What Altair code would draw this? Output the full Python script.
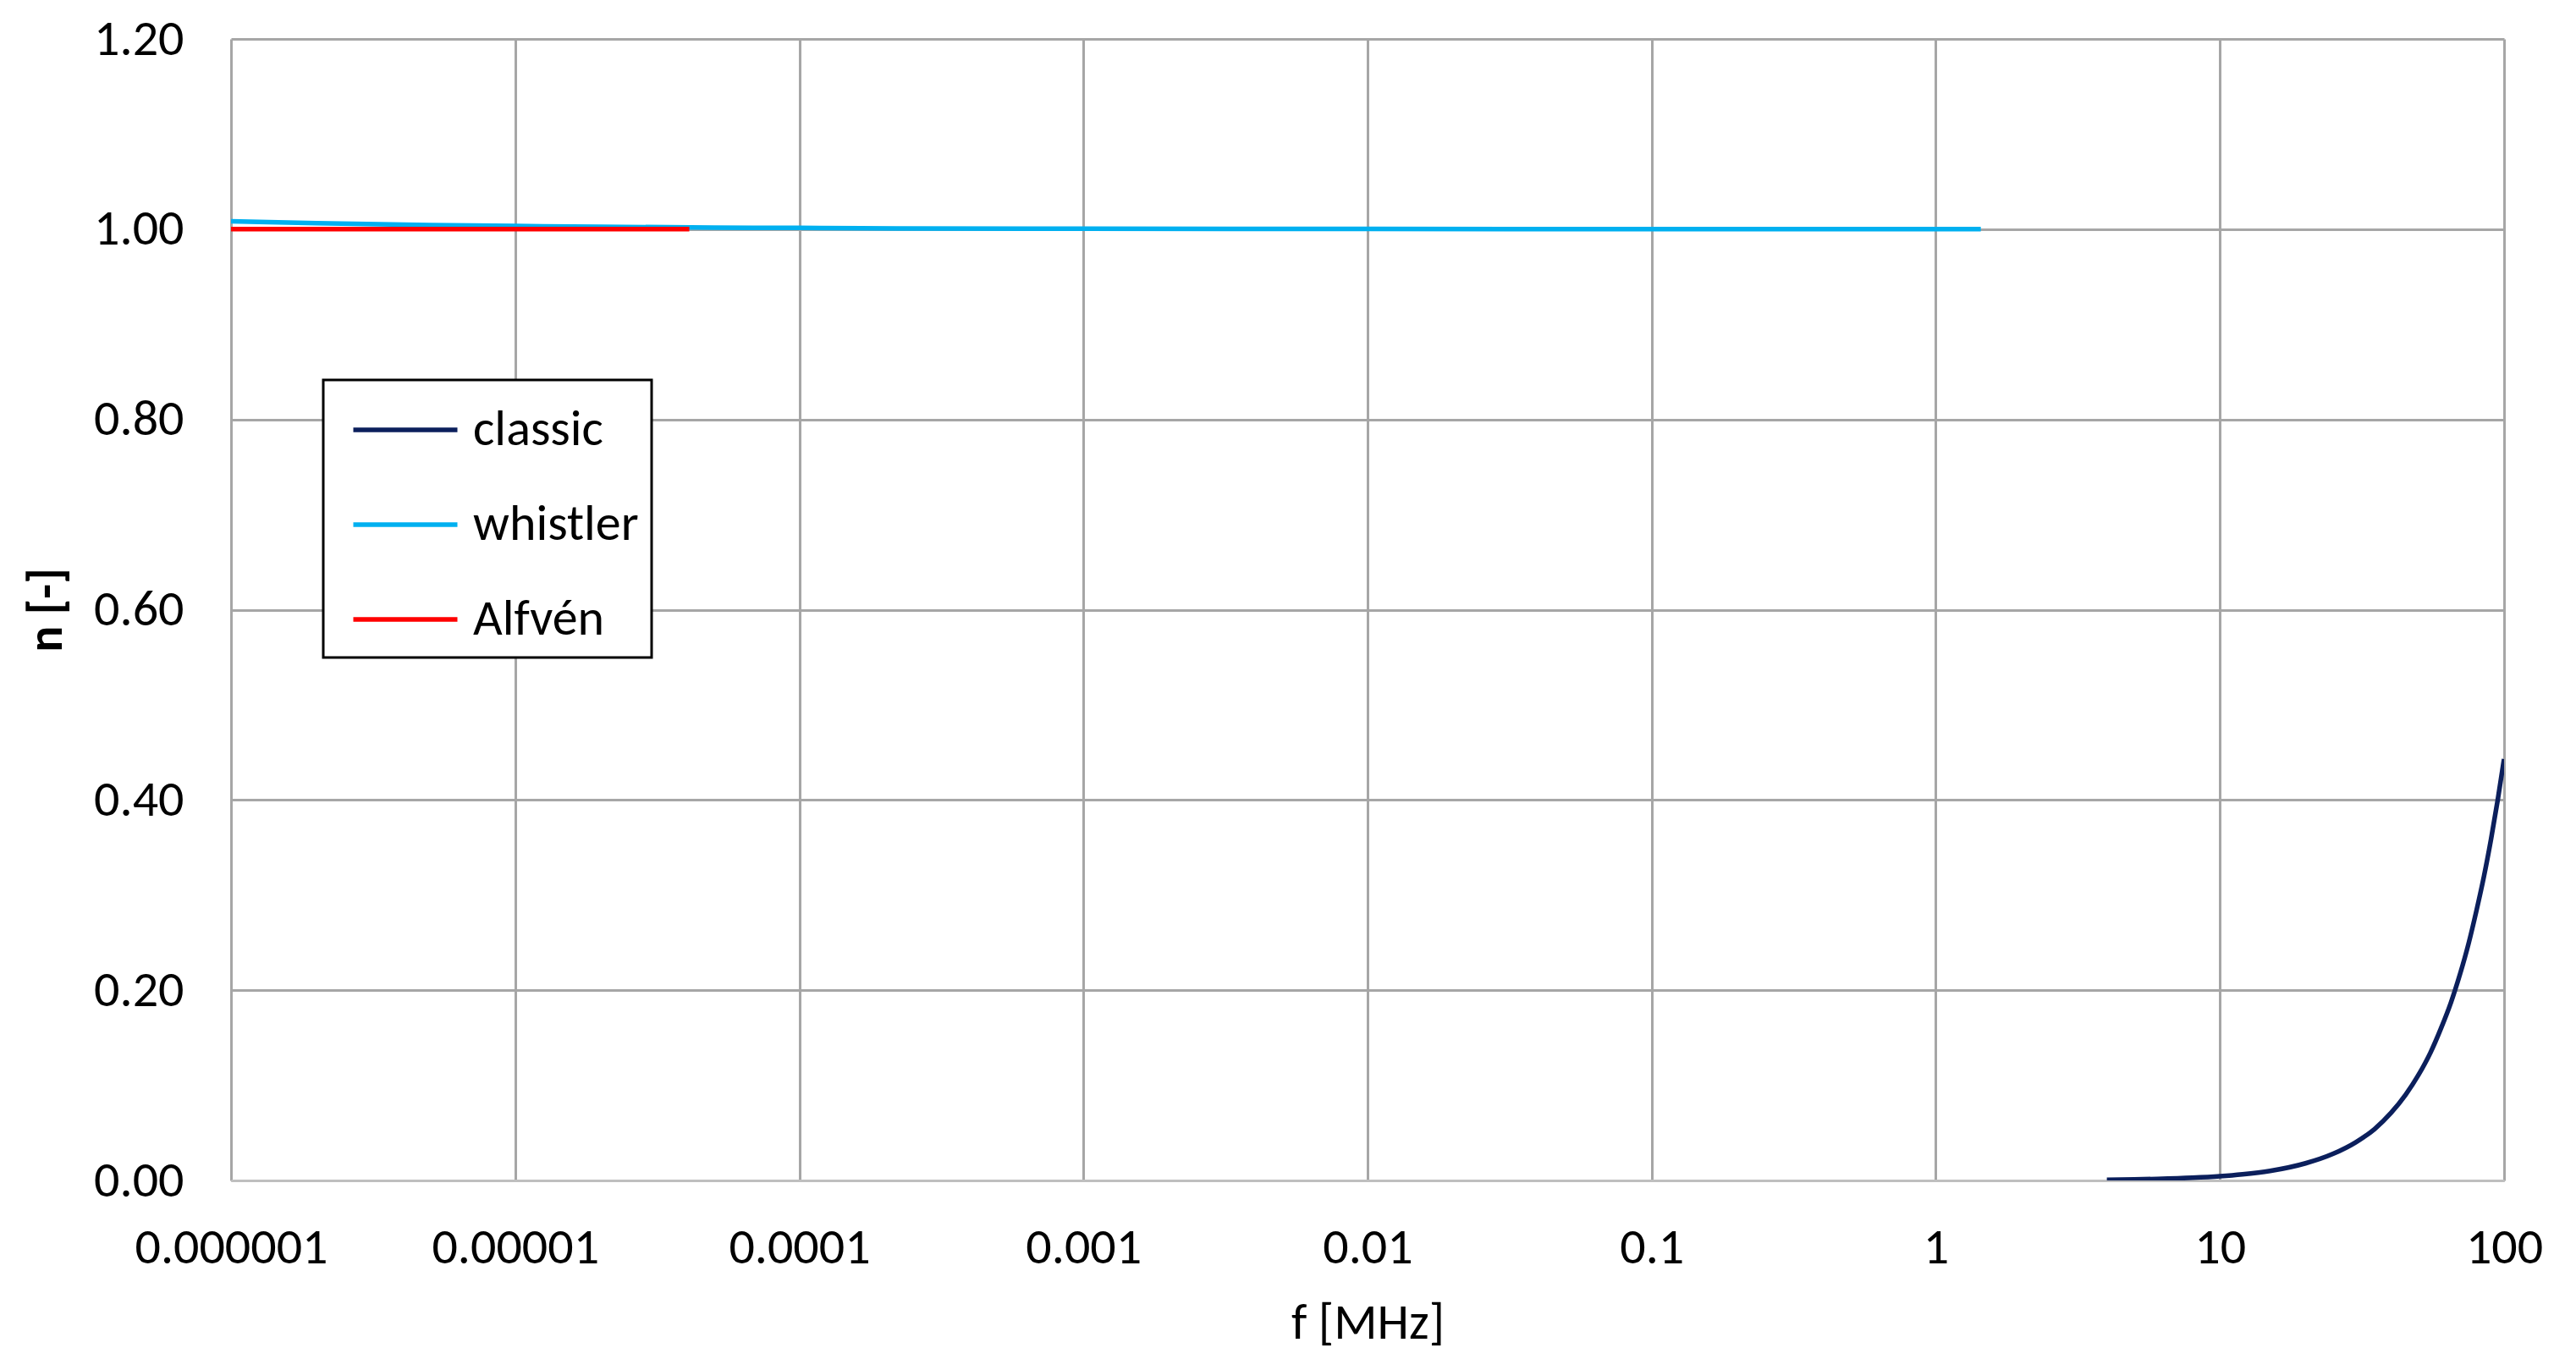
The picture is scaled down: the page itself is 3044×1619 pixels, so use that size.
import altair as alt
import pandas as pd

# ---- data ----
series_names = ["classic", "whistler", "Alfvén"]
series_colors = ["#0B1F5C", "#00B0F0", "#FF0000"]

classic_f = [4, 5, 6, 8, 10, 12, 15, 20, 25, 30, 35, 40, 45, 50, 55, 60, 65, 70, 75, 80, 85, 90, 95, 100]
classic_n = [0.0007, 0.0011, 0.0016, 0.0028, 0.0044, 0.0064, 0.010, 0.018, 0.028, 0.040, 0.054, 0.071,
             0.090, 0.111, 0.134, 0.160, 0.187, 0.217, 0.249, 0.284, 0.320, 0.359, 0.400, 0.443]

whistler_f = [1e-6, 2e-6, 5e-6, 1e-5, 2e-5, 5e-5, 1e-4, 2.2e-4, 1e-3, 1e-2, 0.1, 1, 1.44]
whistler_n = [1.0083, 1.0063, 1.0043, 1.0033, 1.0025, 1.0017, 1.0013, 1.0008, 1.0005, 1.0002, 1.0001, 1.0, 1.0]

alfven_f = [1e-6, 1e-5, 4.1e-5]
alfven_n = [1.0, 1.0, 1.0]

x_ticks = [1e-6, 1e-5, 1e-4, 1e-3, 1e-2, 1e-1, 1, 10, 100]
y_ticks = [0, 0.2, 0.4, 0.6, 0.8, 1.0, 1.2]

rows = []
for f, n in zip(classic_f, classic_n):
    rows.append({"series": "classic", "f": f, "n": n})
for f, n in zip(whistler_f, whistler_n):
    rows.append({"series": "whistler", "f": f, "n": n})
for f, n in zip(alfven_f, alfven_n):
    rows.append({"series": "Alfvén", "f": f, "n": n})
df = pd.DataFrame(rows)

FONT = "Carlito, Lato, sans-serif"

chart = alt.Chart(df).mark_line(strokeWidth=5.5, interpolate="monotone", clip=True).encode(
    x=alt.X("f:Q",
            scale=alt.Scale(type="log", domain=[1e-6, 100], nice=False),
            axis=alt.Axis(values=x_ticks, format=".6~f", title="f [MHz]",
                          labelPadding=50, titlePadding=30, tickSize=0,
                          labelFontSize=60, titleFontSize=60, titleFontWeight="normal",
                          labelLimit=0, labelFlush=False, labelOverlap=False,
                          domain=True, domainColor="#BFBFBF", domainWidth=3,
                          grid=True, gridColor="#A6A6A6", gridWidth=3)),
    y=alt.Y("n:Q",
            scale=alt.Scale(domain=[0, 1.2], nice=False),
            axis=alt.Axis(values=y_ticks, format=".2f", title="n [-]",
                          labelPadding=56, titlePadding=26, tickSize=0,
                          labelFontSize=60, titleFontSize=58, titleFontWeight="bold",
                          labelLimit=0, labelFlush=False, labelOverlap=False,
                          domain=False,
                          grid=True, gridColor="#A6A6A6", gridWidth=3)),
    color=alt.Color("series:N",
                    scale=alt.Scale(domain=series_names, range=series_colors),
                    legend=alt.Legend(orient="none", legendX=109, legendY=403, title=None,
                                      symbolType="M-1.5,0L1.5,0", symbolSize=6724,
                                      symbolStrokeWidth=5.5, symbolOffset=38,
                                      labelFontSize=60, labelOffset=36, padding=15,
                                      labelLimit=1000,
                                      fillColor="white", strokeColor="#000000")),
    order=alt.Order("f:Q"),
).properties(
    width=2686, height=1349,
    padding={"left": 18, "top": 8, "right": 20, "bottom": 10},
).configure(
    font=FONT,
).configure_axis(
    labelColor="#000000", titleColor="#000000", labelFont=FONT, titleFont=FONT,
).configure_legend(
    labelColor="#000000", labelFont=FONT, strokeWidth=3, rowPadding=38,
).configure_view(
    stroke=None,
)

chart.save("out.html", embed_options={"renderer": "svg", "actions": False})
